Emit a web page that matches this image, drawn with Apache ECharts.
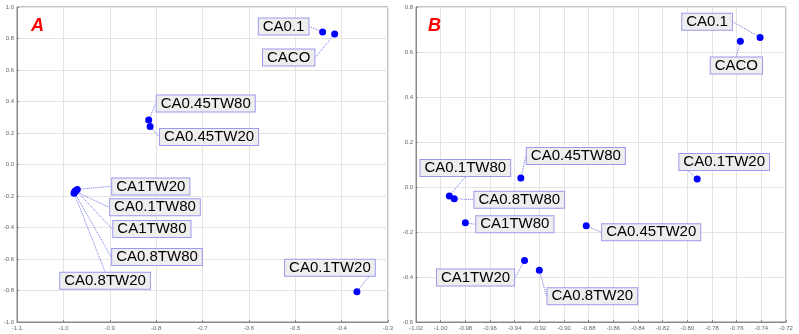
<!DOCTYPE html>
<html>
<head>
<meta charset="utf-8">
<script src="https://cdn.jsdelivr.net/npm/echarts@6/dist/echarts.min.js"></script>
<style>
html, body { margin: 0; padding: 0; background: #fff; }
#myChart { width: 799px; height: 334px; }
</style>
</head>
<body>
<div id="myChart"></div>
<script>
/*---------- 数据 ----------*/
var namesA = ['CA0.1', 'CACO', 'CA0.45TW80', 'CA0.45TW20', 'CA1TW20', 'CA0.1TW80', 'CA1TW80', 'CA0.8TW80', 'CA0.8TW20', 'CA0.1TW20'];
var xA = [-0.441, -0.415, -0.816, -0.813, -0.970, -0.975, -0.973, -0.976, -0.977, -0.367];
var yA = [0.841, 0.829, 0.283, 0.242, -0.158, -0.170, -0.165, -0.178, -0.182, -0.808];

var namesB = ['CA0.1', 'CACO', 'CA0.45TW80', 'CA0.1TW20', 'CA0.1TW80', 'CA0.8TW80', 'CA1TW80', 'CA0.45TW20', 'CA1TW20', 'CA0.8TW20'];
var xB = [-0.741, -0.757, -0.935, -0.792, -0.993, -0.989, -0.980, -0.882, -0.932, -0.920];
var yB = [0.665, 0.648, 0.040, 0.036, -0.040, -0.052, -0.159, -0.172, -0.327, -0.370];

/* 标签偏移 (像素, 标签中心相对于点) */
var offsetA = [[-39, -5.5], [-46, 23.5], [57, -16.5], [59, 10.5], [73.5, -3], [80, 16], [76, 38.5], [82.5, 64.5], [31, 87.5], [-27, -24]];
var offsetB = [[-53, -15.6], [-4, 24.4], [55, -22], [27, -17], [16, -28], [65, 1], [49.5, 1.5], [65, 6.5], [-49, 17], [53, 26]];

function pairs(xs, ys, names) {
    var out = [];
    for (var i = 0; i < xs.length; i++) {
        out.push({name: names[i], value: [xs[i], ys[i]]});
    }
    return out;
}

var axisLabelStyle = {color: '#666', fontSize: 6, fontFamily: 'Arial', margin: 3};
var splitStyle = {show: true, lineStyle: {color: '#e4e4e4', width: 1}};
var axisLineStyle = {show: true, onZero: false, lineStyle: {color: '#888', width: 1}};

function makeX(idx, min, max, interval, digits) {
    return {
        type: 'value', gridIndex: idx, min: min, max: max, interval: interval,
        axisLine: axisLineStyle, axisTick: {show: true, inside: true, length: 2, lineStyle: {color: '#888'}},
        splitLine: splitStyle,
        axisLabel: Object.assign({formatter: function (v) { return v.toFixed(digits); }}, axisLabelStyle)
    };
}
function makeY(idx, min, max, interval) {
    return {
        type: 'value', gridIndex: idx, min: min, max: max, interval: interval,
        axisLine: axisLineStyle, axisTick: {show: true, inside: true, length: 2, lineStyle: {color: '#888'}},
        splitLine: splitStyle,
        axisLabel: Object.assign({formatter: function (v) { return v.toFixed(1); }}, axisLabelStyle)
    };
}

function makeSeries(idx, data, offsets) {
    return {
        type: 'scatter', xAxisIndex: idx, yAxisIndex: idx,
        data: data, symbolSize: 7,
        itemStyle: {color: '#0000ff', opacity: 1},
        label: {
            show: true, position: 'inside', formatter: '{b}',
            color: '#000', fontSize: 15, fontFamily: 'Arial',
            backgroundColor: '#eeeeee', borderColor: '#9a9aee', borderWidth: 1,
            padding: [1, 4, 0, 4]
        },
        labelLine: {show: true, lineStyle: {color: '#6f6fe0', width: 1, type: 'dotted'}},
        labelLayout: function (params) {
            var o = offsets[params.dataIndex];
            return {dx: o[0], dy: o[1]};
        },
        emphasis: {disabled: true}
    };
}

var myChart = echarts.init(document.getElementById('myChart'));
myChart.setOption({
    animation: false,
    title: [
        {text: 'A', left: 26, top: 12, textStyle: {color: '#ff0000', fontSize: 18, fontWeight: 'bold', fontStyle: 'italic', fontFamily: 'Arial'}},
        {text: 'B', left: 423, top: 12, textStyle: {color: '#ff0000', fontSize: 18, fontWeight: 'bold', fontStyle: 'italic', fontFamily: 'Arial'}}
    ],
    grid: [
        {left: 17, top: 7, width: 371, height: 315, show: true, borderColor: '#888', borderWidth: 1},
        {left: 416, top: 7, width: 370, height: 315, show: true, borderColor: '#888', borderWidth: 1}
    ],
    xAxis: [makeX(0, -1.1, -0.3, 0.1, 1), makeX(1, -1.02, -0.72, 0.02, 2)],
    yAxis: [makeY(0, -1.0, 1.0, 0.2), makeY(1, -0.6, 0.8, 0.2)],
    series: [
        makeSeries(0, pairs(xA, yA, namesA), offsetA),
        makeSeries(1, pairs(xB, yB, namesB), offsetB)
    ]
});
</script>
</body>
</html>
